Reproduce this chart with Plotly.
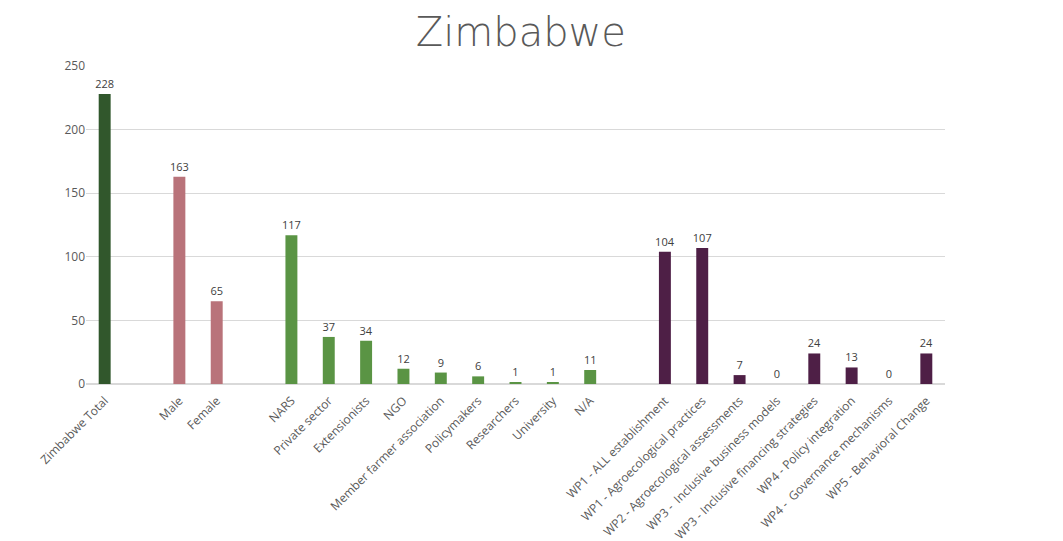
import plotly.graph_objects as go

total_cats = ["Zimbabwe Total"]
total_vals = [228]
gender_cats = ["Male", "Female"]
gender_vals = [163, 65]
stake_cats = ["NARS", "Private sector", "Extensionists", "NGO", "Member farmer association",
              "Policymakers", "Researchers", "University", "N/A"]
stake_vals = [117, 37, 34, 12, 9, 6, 1, 1, 11]
wp_cats = ["WP1 - ALL establishment", "WP1 - Agroecological practices",
           "WP2 - Agroecological assessments", "WP3 -  Inclusive business models",
           "WP3 - Inclusive financing strategies", "WP4 - Policy integration",
           "WP4 -  Governance mechanisms", "WP5 - Behavioral Change"]
wp_vals = [104, 107, 7, 0, 24, 13, 0, 24]

groups = [
    (total_cats, total_vals, "#31572C"),
    (gender_cats, gender_vals, "#B9737A"),
    (stake_cats, stake_vals, "#5A9444"),
    (wp_cats, wp_vals, "#4E1F46"),
]

cats, vals, cols = [], [], []
for i, (c, v, col) in enumerate(groups):
    if i > 0:
        cats.append(" " * i)
        vals.append(None)
        cols.append(col)
    cats += c
    vals += v
    cols += [col] * len(c)

texts = ["" if v is None else str(v) for v in vals]

fig = go.Figure(go.Bar(
    x=cats, y=vals, marker_color=cols, marker_line_width=0,
    text=texts, textposition="outside", cliponaxis=False, constraintext="none",
    textfont=dict(family="Open Sans, sans-serif", size=11, color="#404040"),
))

fig.update_layout(
    width=1063, height=541,
    margin=dict(l=86, r=118, t=66, b=157),
    paper_bgcolor="white", plot_bgcolor="white",
    bargap=0.68,
    showlegend=False,
    uniformtext=dict(minsize=11, mode="show"),
    title=dict(text="Zimbabwe", x=0.49, xanchor="center", y=0.94, yanchor="middle",
               font=dict(family="DejaVu Sans, sans-serif", size=40, weight=300, color="#595959")),
    xaxis=dict(type="category", tickangle=-45, showgrid=False, showline=True,
               linecolor="#D9D9D9", linewidth=1, ticks="", automargin=False,
               ticklabelstandoff=4,
               tickfont=dict(family="Open Sans, sans-serif", size=12, color="#595959")),
    yaxis=dict(range=[0, 250], dtick=50, showgrid=True, gridcolor="#D9D9D9",
               zeroline=True, zerolinecolor="#D9D9D9", ticks="", automargin=False,
               tickfont=dict(family="Open Sans, sans-serif", size=12, color="#595959")),
)

fig.write_html("out.html")
